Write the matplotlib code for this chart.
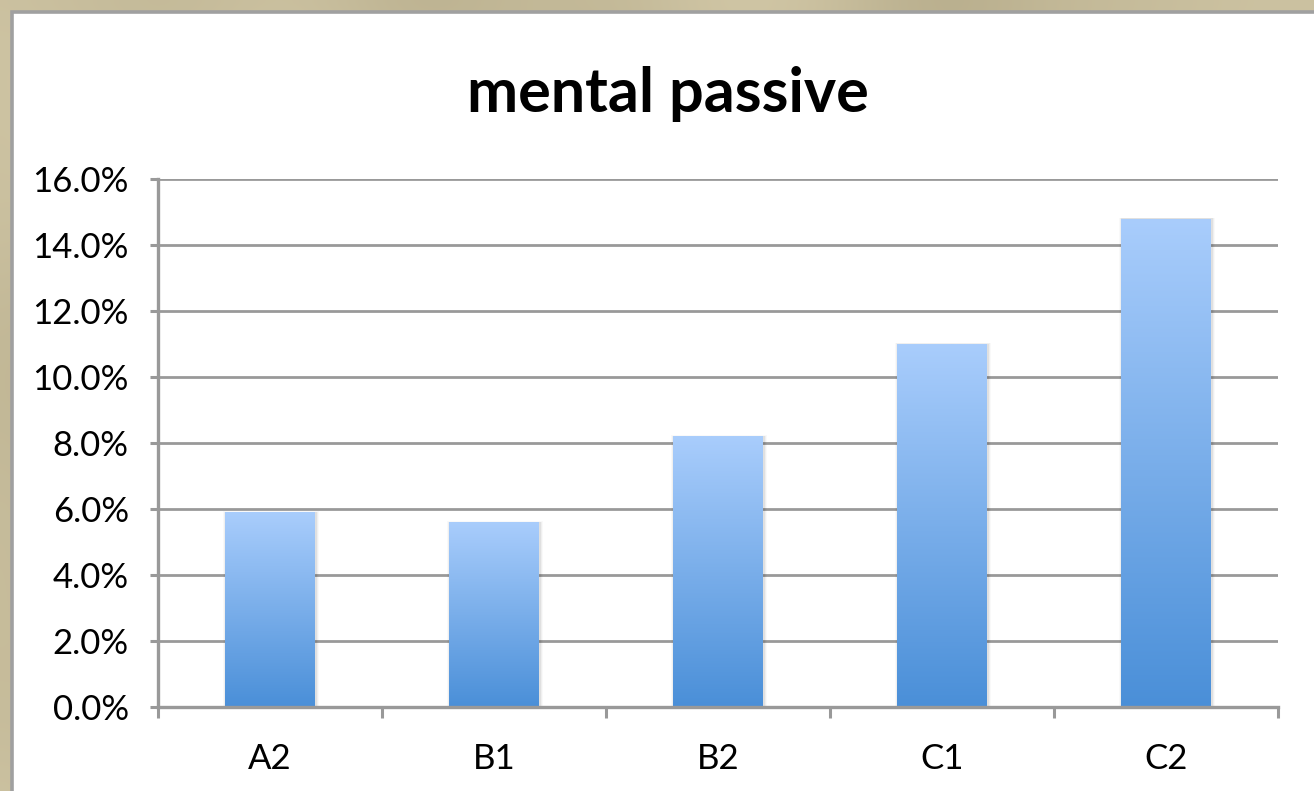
import numpy as np
import matplotlib
matplotlib.use("Agg")
import matplotlib.pyplot as plt
from matplotlib.patches import Rectangle
from matplotlib.colors import LinearSegmentedColormap
from matplotlib.ticker import FuncFormatter, MultipleLocator
from numpy.fft import fft2, ifft2

categories = ["A2", "B1", "B2", "C1", "C2"]
values = [5.9, 5.6, 8.2, 11.0, 14.8]
title = "mental passive"

W, H = 1314, 791
fig = plt.figure(figsize=(W / 100, H / 100), dpi=100)

# parchment-like backdrop
bg = fig.add_axes([0, 0, 1, 1], zorder=-10)
rng = np.random.default_rng(3)
noise = rng.normal(0, 1, (80, 130))
ky = np.fft.fftfreq(80)[:, None]
kx = np.fft.fftfreq(130)[None, :]
smooth = np.real(ifft2(fft2(noise) * np.exp(-((kx**2 + ky**2) * 900))))
smooth = (smooth - smooth.min()) / (smooth.max() - smooth.min())
base = np.array([0.77, 0.73, 0.60])
tex = base[None, None, :] + (smooth[..., None] - 0.5) * 0.10
bg.imshow(np.clip(tex, 0, 1), aspect="auto", extent=[0, 1, 0, 1], interpolation="bicubic")
bg.set_xlim(0, 1)
bg.set_ylim(0, 1)
bg.axis("off")

# white chart panel with grey frame
px0, py1 = 12 / W, 1 - 12 / H
panel = Rectangle((px0, -0.01), 1.02 - px0, py1 + 0.01, transform=fig.transFigure,
                  facecolor="white", edgecolor="#a0a0a0", linewidth=2.6, zorder=-5)
fig.add_artist(panel)

font = "Lato"
fig.text(668 / W, 1 - 94 / H, title, ha="center", va="center",
         fontsize=44, fontweight="bold", family=font, color="black")

ax = fig.add_axes([158 / W, 84 / H, (1278 - 158) / W, (707 - 179) / H])
ax.set_facecolor("none")

x = np.arange(len(categories))
bar_w = 0.4
cmap = LinearSegmentedColormap.from_list("bar", ["#4a8fd8", "#a9cdfc"])
grad = np.linspace(0, 1, 256)[:, None]

bars = ax.bar(x, values, width=bar_w, color="none", edgecolor="none", zorder=3)
for b in bars:
    x0, y0 = b.get_x(), b.get_y()
    bw, bh = b.get_width(), b.get_height()
    # soft shadow around the bar
    for i, a in enumerate([0.06, 0.04, 0.025]):
        pad = 0.005 * (i + 1)
        ax.add_patch(Rectangle((x0 - pad + 0.003, y0), bw + 2 * pad, bh + pad * 2,
                               facecolor="black", alpha=a, edgecolor="none", zorder=2))
    ax.add_patch(Rectangle((x0, y0), bw, bh, facecolor="#7fb0ea", edgecolor="none", zorder=2.5))
    im = ax.imshow(grad, cmap=cmap, origin="lower", aspect="auto",
                   extent=[x0, x0 + bw, y0, y0 + bh], zorder=3)
    im.set_clip_path(b)

ax.set_xlim(-0.5, len(categories) - 0.5)
ax.set_ylim(0, 16)

grid_c = "#999999"
ax.yaxis.set_major_locator(MultipleLocator(2))
ax.yaxis.set_major_formatter(FuncFormatter(lambda v, p: f"{v:.1f}%"))
ax.grid(axis="y", color=grid_c, linewidth=2.0, zorder=0)
ax.set_axisbelow(True)

ax.set_xticks(x)
ax.set_xticklabels(categories)
ax.set_xticks(np.arange(-0.5, len(categories)), minor=True)
ax.tick_params(axis="x", which="major", length=0, pad=26)
ax.tick_params(axis="x", which="minor", length=8, width=2.2, color=grid_c)
ax.tick_params(axis="y", length=6, width=2.2, color=grid_c, pad=15)
for lab in ax.get_xticklabels() + ax.get_yticklabels():
    lab.set_fontfamily(font)
    lab.set_fontsize(25)
    lab.set_color("black")

for s in ["top", "right"]:
    ax.spines[s].set_visible(False)
for s in ["left", "bottom"]:
    ax.spines[s].set_color(grid_c)
    ax.spines[s].set_linewidth(2.4)
    ax.spines[s].set_zorder(4)

fig.savefig("out.png", dpi=100)
